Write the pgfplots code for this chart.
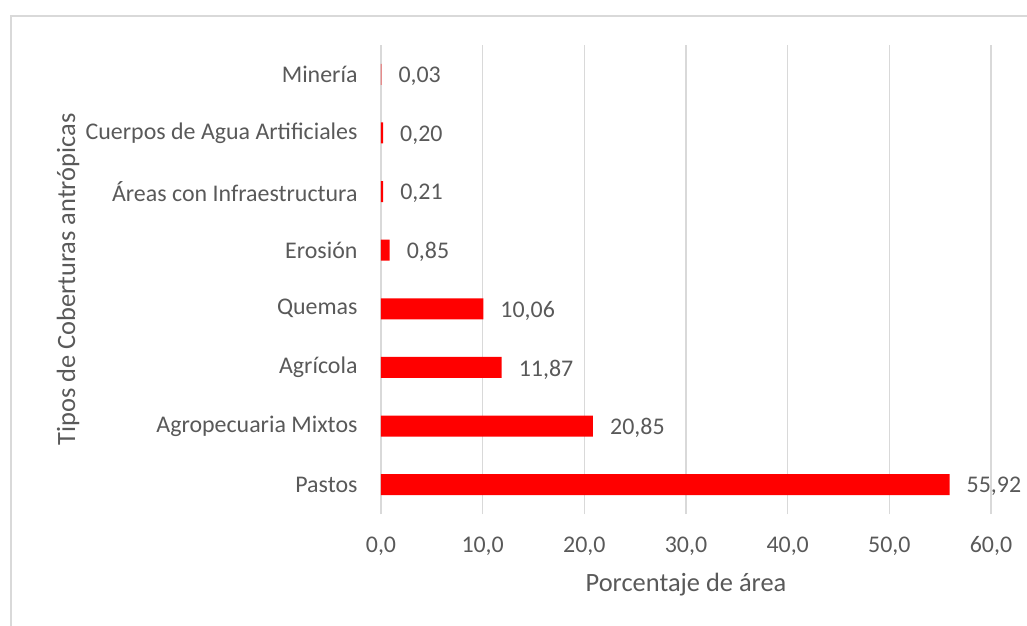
\documentclass[border=0pt]{standalone}
\usepackage{pgfplots}
\pgfplotsset{compat=1.18}
\usepackage{fontspec}
\setmainfont{Carlito}
\definecolor{txt}{HTML}{595959}
\definecolor{gridc}{HTML}{D9D9D9}
\begin{document}
\begin{tikzpicture}
\begin{axis}[
  xbar, scale only axis, width=610bp, height=469bp,
  xmin=0, xmax=60, ymin=-0.5, ymax=7.5,
  bar width=21bp,
  ytick={0,...,7},
  yticklabels={Pastos, Agropecuaria Mixtos, Agrícola, Quemas, Erosión, Áreas con Infraestructura, Cuerpos de Agua Artificiales, Minería},
  xtick={0,10,...,60},
  xmajorgrids, grid style={gridc, line width=1.3bp},
  axis line style={draw=none},
  major tick length=0pt,
  tick label style={font=\fontsize{24}{28}\selectfont, text=txt},
  xticklabel style={yshift=-19bp, /pgf/number format/.cd, fixed, fixed zerofill, precision=1, use comma, assume math mode=true},
  yticklabel style={xshift=-20bp},
  xlabel={Porcentaje de área},
  ylabel={Tipos de Coberturas antrópicas},
  xlabel style={font=\fontsize{26.5}{30}\selectfont, text=txt, at={(axis description cs:0.5,-0.15)}, anchor=center},
  ylabel style={font=\fontsize{26.5}{30}\selectfont, text=txt, at={(axis description cs:-0.5131,0.5)}, anchor=center},
  point meta=x,
  nodes near coords={\pgfmathprintnumber[fixed, fixed zerofill, precision=2, use comma]{\pgfplotspointmeta}},
  nodes near coords style={anchor=west, inner sep=0pt, xshift=17bp, yshift=-2bp, font=\fontsize{24}{28}\selectfont, text=txt, /pgf/number format/assume math mode=true},
]
\addplot[fill=red, draw=none] coordinates {
  (55.92,0)
  (20.85,1)
  (11.87,2)
  (10.06,3)
  (0.85,4)
  (0.21,5)
  (0.20,6)
  (0.03,7)
};
\end{axis}
\draw[gridc, line width=2bp] (-370bp,-112bp) -- (-370bp,498bp) -- (646bp,498bp);
\pgfresetboundingbox
\useasboundingbox (-381bp,-112bp) rectangle (646bp,514bp);
\end{tikzpicture}
\end{document}
